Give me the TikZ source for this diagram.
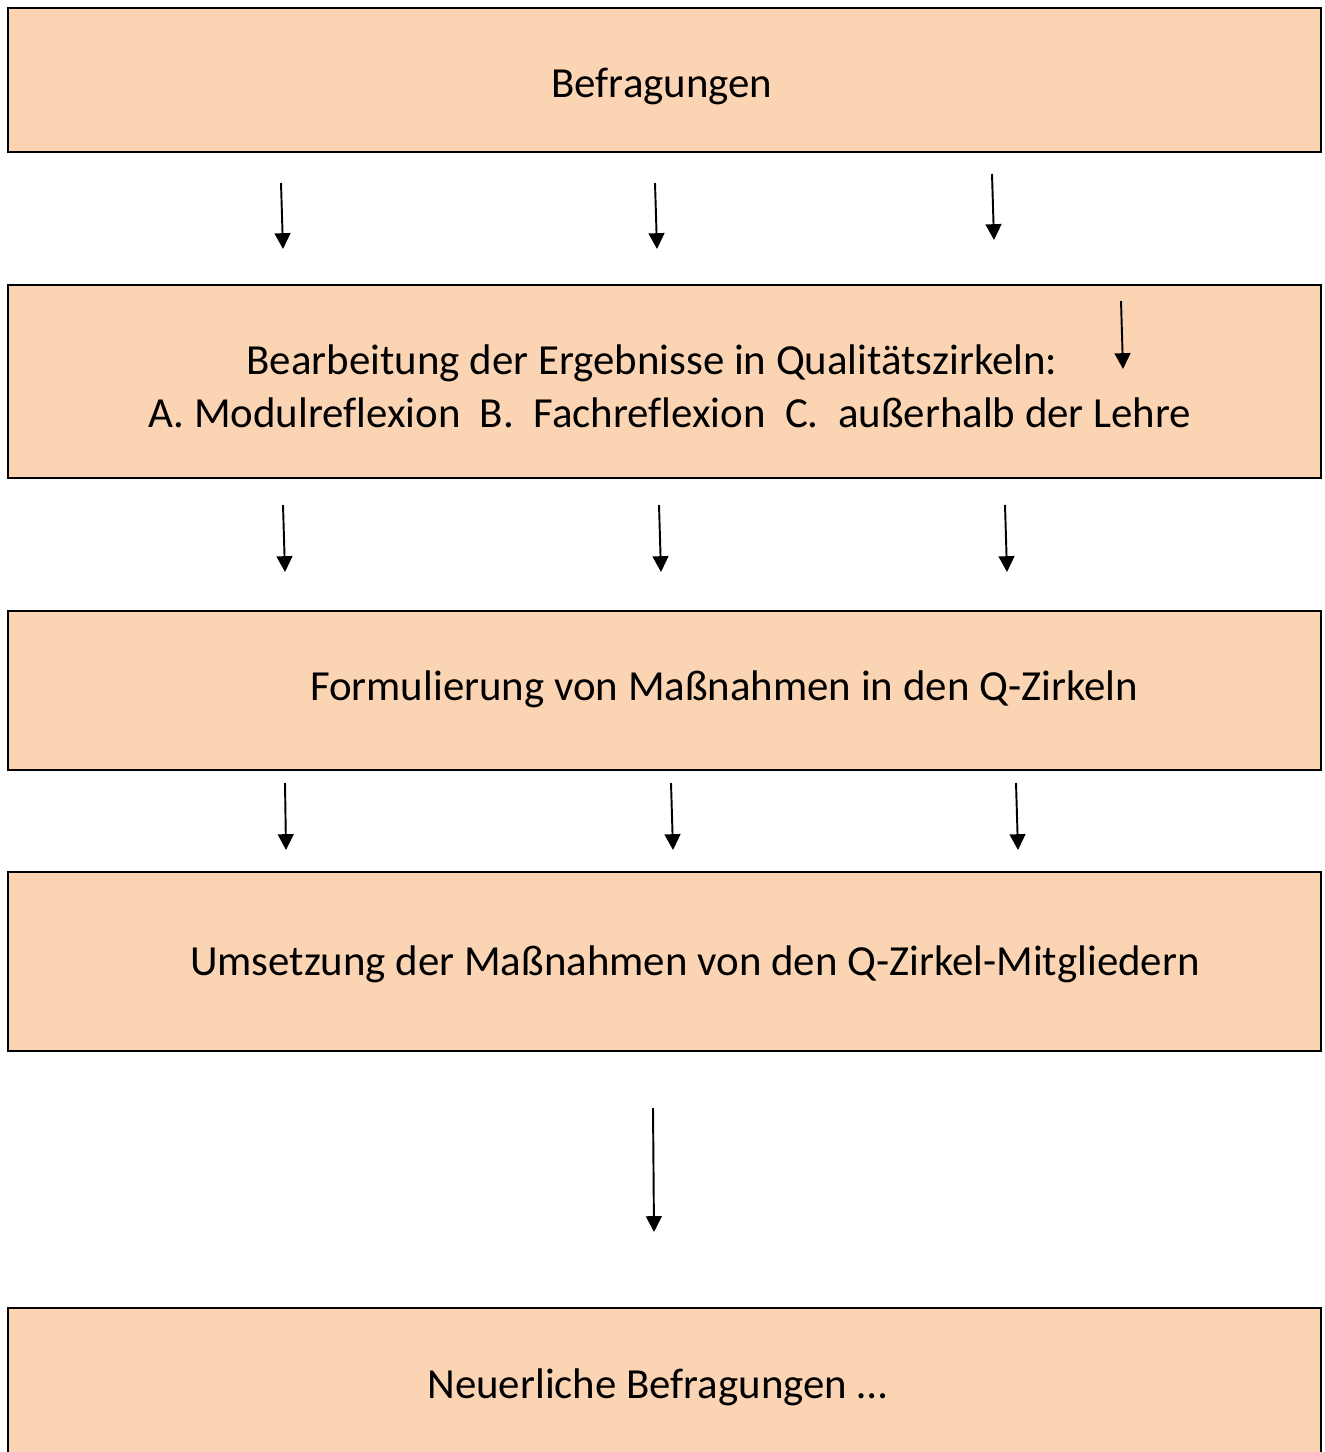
\documentclass[tikz,border=0pt]{standalone}
\usepackage{fontspec}
\setmainfont[Ligatures=NoCommon]{Carlito}
\usetikzlibrary{arrows.meta}
\definecolor{boxfill}{RGB}{251,212,180}
\begin{document}
\begin{tikzpicture}[x=0.02cm,y=-0.02cm,
  box/.style={draw=black,fill=boxfill,line width=1.1pt,minimum width=26.26cm,inner sep=0pt},
  txt/.style={anchor=base,inner sep=0pt,font=\fontsize{24.4}{29}\selectfont},
  pfeil/.style={line width=1.1pt,-{Triangle[width=9pt,length=9pt]}}]
\useasboundingbox (0,0) rectangle (1324,1452);
% Kaesten
\node[box,minimum height=2.88cm] (befr) at (664.5,80) {};
\node[box,minimum height=3.86cm] (bearb) at (664.5,381.5) {};
\node[box,minimum height=3.18cm] (form) at (664.5,690.5) {};
\node[box,minimum height=3.58cm] (ums) at (664.5,961.5) {};
\node[box,minimum height=3.24cm] (neu) at (664.5,1389) {};
% Texte
\node[txt] (t1) at (662,98) {Befragungen};
\node[txt] (t2a) at (652,375) {Bearbeitung der Ergebnisse in Qualitätszirkeln:};
\node[txt] (t2b) at (670,428) {A.~Modulreflexion~~B.~~Fachreflexion~~C.~~außerhalb der Lehre};
\node[txt] (t3) at (724,700) {Formulierung von Maßnahmen in den Q-Zirkeln};
\node[txt] (t4) at (695,975) {Umsetzung der Maßnahmen von den Q-Zirkel-Mitgliedern};
\node[txt] (t5) at (657,1398) {Neuerliche Befragungen …};
% Pfeile
\coordinate (a1) at (281,183); \coordinate (b1) at (283,249);
\coordinate (a2) at (655,183); \coordinate (b2) at (657,249);
\coordinate (a3) at (992,174); \coordinate (b3) at (994,240);
\coordinate (a4) at (1121,301); \coordinate (b4) at (1123,369);
\coordinate (a5) at (283,505); \coordinate (b5) at (285,572);
\coordinate (a6) at (659,505); \coordinate (b6) at (661,572);
\coordinate (a7) at (1005,505); \coordinate (b7) at (1007,572);
\coordinate (a8) at (285,783); \coordinate (b8) at (286,850);
\coordinate (a9) at (671,783); \coordinate (b9) at (673,850);
\coordinate (a10) at (1016,783); \coordinate (b10) at (1018,850);
\coordinate (a11) at (653,1108); \coordinate (b11) at (654,1232);
\foreach \i in {1,...,11}
  \draw[pfeil] (a\i) -- (b\i);
\end{tikzpicture}
\end{document}
